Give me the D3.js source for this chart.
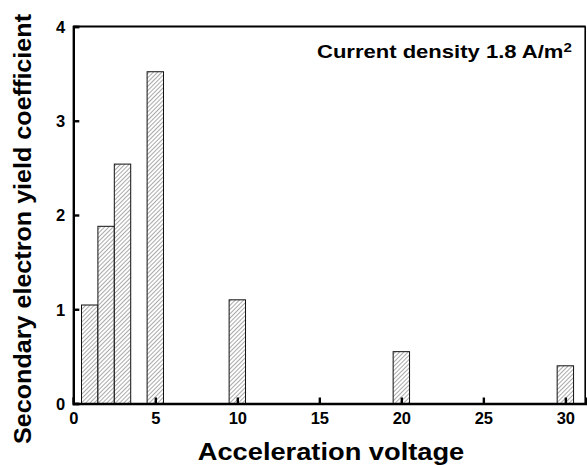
<!DOCTYPE html>
<html><head><meta charset="utf-8">
<script src="https://cdn.jsdelivr.net/npm/d3@7"></script>
<style>body{margin:0;background:#fff}svg{display:block}text{font-family:"Liberation Sans",Arial,sans-serif;font-weight:bold}</style>
</head><body><svg id="c" width="587" height="465"></svg>
<script>
const voltages = [1, 2, 3, 5, 10, 20, 30];
const yields = [1.045, 1.88, 2.54, 3.52, 1.10, 0.55, 0.40];
const xTicks = [0, 5, 10, 15, 20, 25, 30];
const yTicks = [0, 1, 2, 3, 4];
const barWidth = 1;

const svg = d3.select("#c");
const m = {l:73.3, r:1.3, t:26.5, b:61.5};
const W = 587, H = 465;
const x = d3.scaleLinear().domain([0, 31.24]).range([m.l, W - m.r]);
const y = d3.scaleLinear().domain([0, 4]).range([H - m.b, m.t]);

const defs = svg.append("defs");
const pat = defs.append("pattern").attr("id","hatch").attr("patternUnits","userSpaceOnUse")
  .attr("width",3).attr("height",3).attr("patternTransform","rotate(45)");
pat.append("rect").attr("width",3).attr("height",3).attr("fill","#fff");
pat.append("line").attr("x1",0).attr("y1",0).attr("x2",0).attr("y2",3).attr("stroke","#555").attr("stroke-width",1);

svg.selectAll("rect.bar").data(voltages).join("rect").attr("class","bar")
  .attr("x", d => x(d - barWidth/2))
  .attr("width", d => x(d + barWidth/2) - x(d - barWidth/2))
  .attr("y", (d,i) => y(yields[i]))
  .attr("height", (d,i) => y(0) - y(yields[i]))
  .attr("fill","url(#hatch)").attr("stroke","#111").attr("stroke-width",1);

// frame
svg.append("line").attr("x1",x.range()[0]).attr("x2",x.range()[1]).attr("y1",y(4)).attr("y2",y(4)).attr("stroke","#000").attr("stroke-width",2);
svg.append("line").attr("x1",x.range()[1]-0.5).attr("x2",x.range()[1]-0.5).attr("y1",y(4)).attr("y2",y(0)).attr("stroke","#000").attr("stroke-width",1.6);

const fmt = d3.format("d");
const xAxis = svg.append("g").attr("transform",`translate(0,${y(0)})`)
  .call(d3.axisBottom(x).tickValues(xTicks).tickFormat(fmt).tickSize(-6).tickPadding(9));
const yAxis = svg.append("g").attr("transform",`translate(${x(0)},0)`)
  .call(d3.axisLeft(y).tickValues(yTicks).tickFormat(fmt).tickSize(-6).tickPadding(8));
[xAxis, yAxis].forEach(g => {
  g.select(".domain").attr("stroke","#000").attr("stroke-width",2.4);
  g.selectAll(".tick line").attr("stroke","#000").attr("stroke-width",2.4);
  g.selectAll("text").attr("fill","#000").attr("font-size",null).style("font-size","16.5px").style("font-weight","bold").style("font-family","'Liberation Sans',Arial,sans-serif");
});
xAxis.selectAll("text").attr("dy","0.71em");
yAxis.selectAll("text").attr("dy","0.36em");

svg.append("text").attr("transform","translate(331,460) scale(1.16,1)").attr("text-anchor","middle")
  .style("font-size","23.5px").text("Acceleration voltage");
svg.append("text").attr("transform","translate(31,229) rotate(-90)").attr("text-anchor","middle")
  .attr("textLength",430).attr("lengthAdjust","spacingAndGlyphs")
  .style("font-size","24.5px").text("Secondary electron yield coefficient");
const t = svg.append("text").attr("transform","translate(317,58) scale(1.16,1)").style("font-size","19px");
t.append("tspan").text("Current density 1.8 A/m");
t.append("tspan").style("font-size","13px").attr("dy","-6").text("2");
</script></body></html>
